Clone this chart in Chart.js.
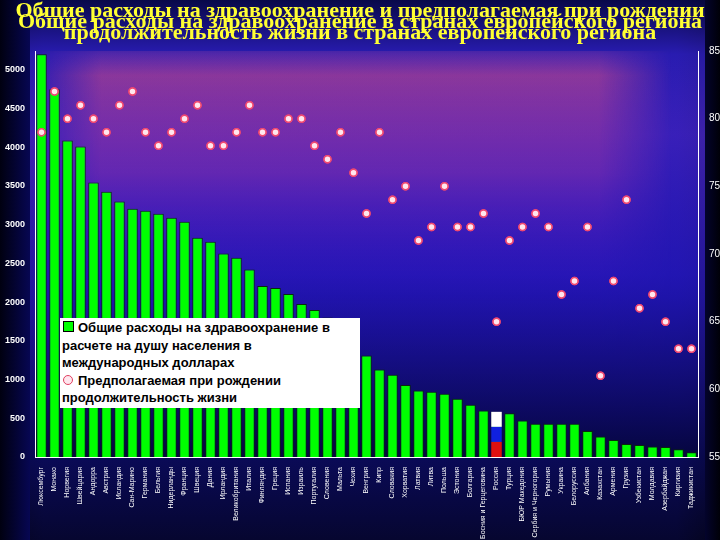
<!DOCTYPE html>
<html><head><meta charset="utf-8">
<script src="https://cdn.jsdelivr.net/npm/chart.js@4"></script>
<style>
html,body{margin:0;padding:0;background:#000;}
#wrap{position:relative;width:720px;height:540px;}
#legend{position:absolute;left:60px;top:318px;width:300px;background:#fff;font:bold 13px Arial,"Liberation Sans",sans-serif;color:#000;line-height:17.5px;padding:1px 2px;box-sizing:border-box;}
.sq{display:inline-block;width:9px;height:9px;background:#00ff00;border:1px solid #000;margin:0 4px 0 1px;}
.ci{display:inline-block;width:8px;height:8px;border-radius:50%;background:#ffe6ee;border:1px solid #e04060;margin:0 5px 0 1px;}
</style></head><body>
<div id="wrap"><canvas id="c" width="720" height="540"></canvas>
<div id="legend"><span class="sq"></span>Общие расходы на здравоохранение в расчете на душу населения в международных долларах<br><span class="ci"></span>Предполагаемая при рождении продолжительность жизни</div>
</div>
<script>
const countries=["Люксембург","Монако","Норвегия","Швейцария","Андорра","Австрия","Исландия","Сан-Марино","Германия","Бельгия","Нидерланды","Франция","Швеция","Дания","Ирландия","Великобритания","Италия","Финляндия","Греция","Испания","Израиль","Португалия","Словения","Мальта","Чехия","Венгрия","Кипр","Словакия","Хорватия","Латвия","Литва","Польша","Эстония","Болгария","Босния и Герцеговина","Россия","Турция","БЮР Македония","Сербия и Черногория","Румыния","Украина","Белоруссия","Албания","Казахстан","Армения","Грузия","Узбекистан","Молдавия","Азербайджан","Киргизия","Таджикистан"];
const spending=[5197,4747,4086,4008,3542,3425,3296,3205,3179,3140,3088,3037,2829,2777,2627,2570,2420,2207,2181,2103,1974,1896,1800,1600,1400,1309,1128,1063,929,859,842,816,752,674,600,583,566,470,428,428,428,428,337,263,220,168,155,134,130,100,61];
const lifeExp=[79,82,80,81,80,79,81,82,79,78,79,80,81,78,78,79,81,79,79,80,80,78,77,79,76,73,79,74,75,71,72,75,72,72,73,65,71,72,73,72,67,68,72,61,68,74,66,67,65,63,63];
const leftTicks=[0,500,1000,1500,2000,2500,3000,3500,4000,4500,5000];
const rightTicks=[55,60,65,70,75,80,85];
const titleLines=["Общие расходы на здравоохранение и предполагаемая при рождении","Общие расходы на здравоохранение в странах европейского региона","продолжительность жизни в странах европейского региона"];

const bg={id:'bg',beforeDraw(ch){const c=ch.ctx,a=ch.chartArea;
 let g=c.createLinearGradient(0,0,720,0);g.addColorStop(0,'#000010');g.addColorStop(0.06,'#0a0a70');g.addColorStop(0.94,'#0a0a70');g.addColorStop(1,'#000008');
 c.fillStyle=g;c.fillRect(0,0,720,540);
 let v=c.createLinearGradient(0,0,0,540);v.addColorStop(0,'#080840');v.addColorStop(0.1,'#3020c0');v.addColorStop(0.25,'#4a28c8');v.addColorStop(0.55,'#2818b0');v.addColorStop(0.85,'#0a0a50');v.addColorStop(1,'#050520');
 c.globalAlpha=0.8;c.fillStyle=v;c.fillRect(30,0,675,540);c.globalAlpha=1;
 // soft purple glow
 const off=document.createElement('canvas');off.width=720;off.height=540;const o=off.getContext('2d');
 let p=o.createLinearGradient(0,a.top,0,a.bottom);p.addColorStop(0,'rgba(150,60,160,0.3)');p.addColorStop(0.06,'rgba(155,60,150,0.9)');p.addColorStop(0.3,'rgba(140,50,170,0.8)');p.addColorStop(0.6,'rgba(70,20,200,0.15)');p.addColorStop(1,'rgba(0,0,60,0)');
 o.fillStyle=p;o.fillRect(a.left,a.top,a.right-a.left,a.bottom-a.top);
 o.globalCompositeOperation='destination-in';
 let h=o.createLinearGradient(a.left,0,a.right,0);h.addColorStop(0,'rgba(0,0,0,0)');h.addColorStop(0.1,'rgba(0,0,0,1)');h.addColorStop(0.85,'rgba(0,0,0,1)');h.addColorStop(0.96,'rgba(0,0,0,0)');
 o.fillStyle=h;o.fillRect(0,0,720,540);
 c.drawImage(off,0,0);
 let p2=c.createLinearGradient(0,a.top,0,a.bottom);p2.addColorStop(0,'rgba(40,20,200,0)');p2.addColorStop(0.55,'rgba(30,20,190,0.5)');p2.addColorStop(1,'rgba(5,5,60,0.9)');
 c.fillStyle=p2;c.fillRect(a.left,a.top,a.right-a.left,a.bottom-a.top);
},
afterDraw(ch){const c=ch.ctx;c.save();c.font='bold 22px "Liberation Serif","DejaVu Serif",serif';c.textAlign='center';c.textBaseline='middle';
 c.fillStyle='#ffff33';
 const ys=[11,22,33];titleLines.forEach((t,i)=>{c.fillText(t,360,ys[i]);});c.restore();}};
const flag={id:'flag',afterDatasetsDraw(ch){const m=ch.getDatasetMeta(1);const el=m.data[35];if(!el)return;const c=ch.ctx;
 const x=el.x-el.width/2,w=el.width,t=el.y,b=el.base,h=(b-t)/3;c.fillStyle='#ffffff';c.fillRect(x,t,w,h);c.fillStyle='#1020e0';c.fillRect(x,t+h,w,h);c.fillStyle='#e01010';c.fillRect(x,t+2*h,w,h);
 const pm=ch.getDatasetMeta(0);pm.controller.draw();}};

new Chart(document.getElementById('c'),{
 data:{labels:countries,datasets:[
  {type:'scatter',data:lifeExp.map((v,i)=>({x:countries[i],y:v})),yAxisID:'y2',pointRadius:3.5,pointBackgroundColor:'#ffe6ee',pointBorderColor:'#f04870',pointBorderWidth:1.5,order:0},
  {type:'bar',data:spending,yAxisID:'y',backgroundColor:'#00ff00',borderColor:'#0a2a0a',borderWidth:1,barPercentage:0.95,categoryPercentage:0.85,order:1}
 ]},
 options:{responsive:false,animation:false,layout:{padding:{top:51,left:0,right:0}},
  plugins:{legend:{display:false},tooltip:{enabled:false}},
  scales:{
   x:{type:'category',offset:true,grid:{display:false,drawTicks:true},border:{color:'#ffffff',width:1},
     ticks:{color:'#ffffff',font:{size:7,family:'Arial'},minRotation:90,maxRotation:90,autoSkip:false,padding:2},
     afterFit(s){s.height=83;}},
   y:{position:'left',min:0,max:5240,grid:{display:false},border:{color:'#ffffff',width:1},
     afterBuildTicks(s){s.ticks=leftTicks.map(v=>({value:v}));},
     ticks:{color:'#ffffff',font:{size:9,weight:'bold',family:'Arial'},padding:2,callback:v=>String(v)},afterFit(s){s.width=35;}},
   y2:{position:'right',min:55,max:85,grid:{display:false},border:{color:'#ffffff',width:1},
     afterBuildTicks(s){s.ticks=rightTicks.map(v=>({value:v}));},
     ticks:{color:'#ffffff',font:{size:10,family:'Arial'},padding:3,callback:v=>String(v)},afterFit(s){s.width=22;}}
  }},
 plugins:[bg,flag]
});
</script></body></html>
